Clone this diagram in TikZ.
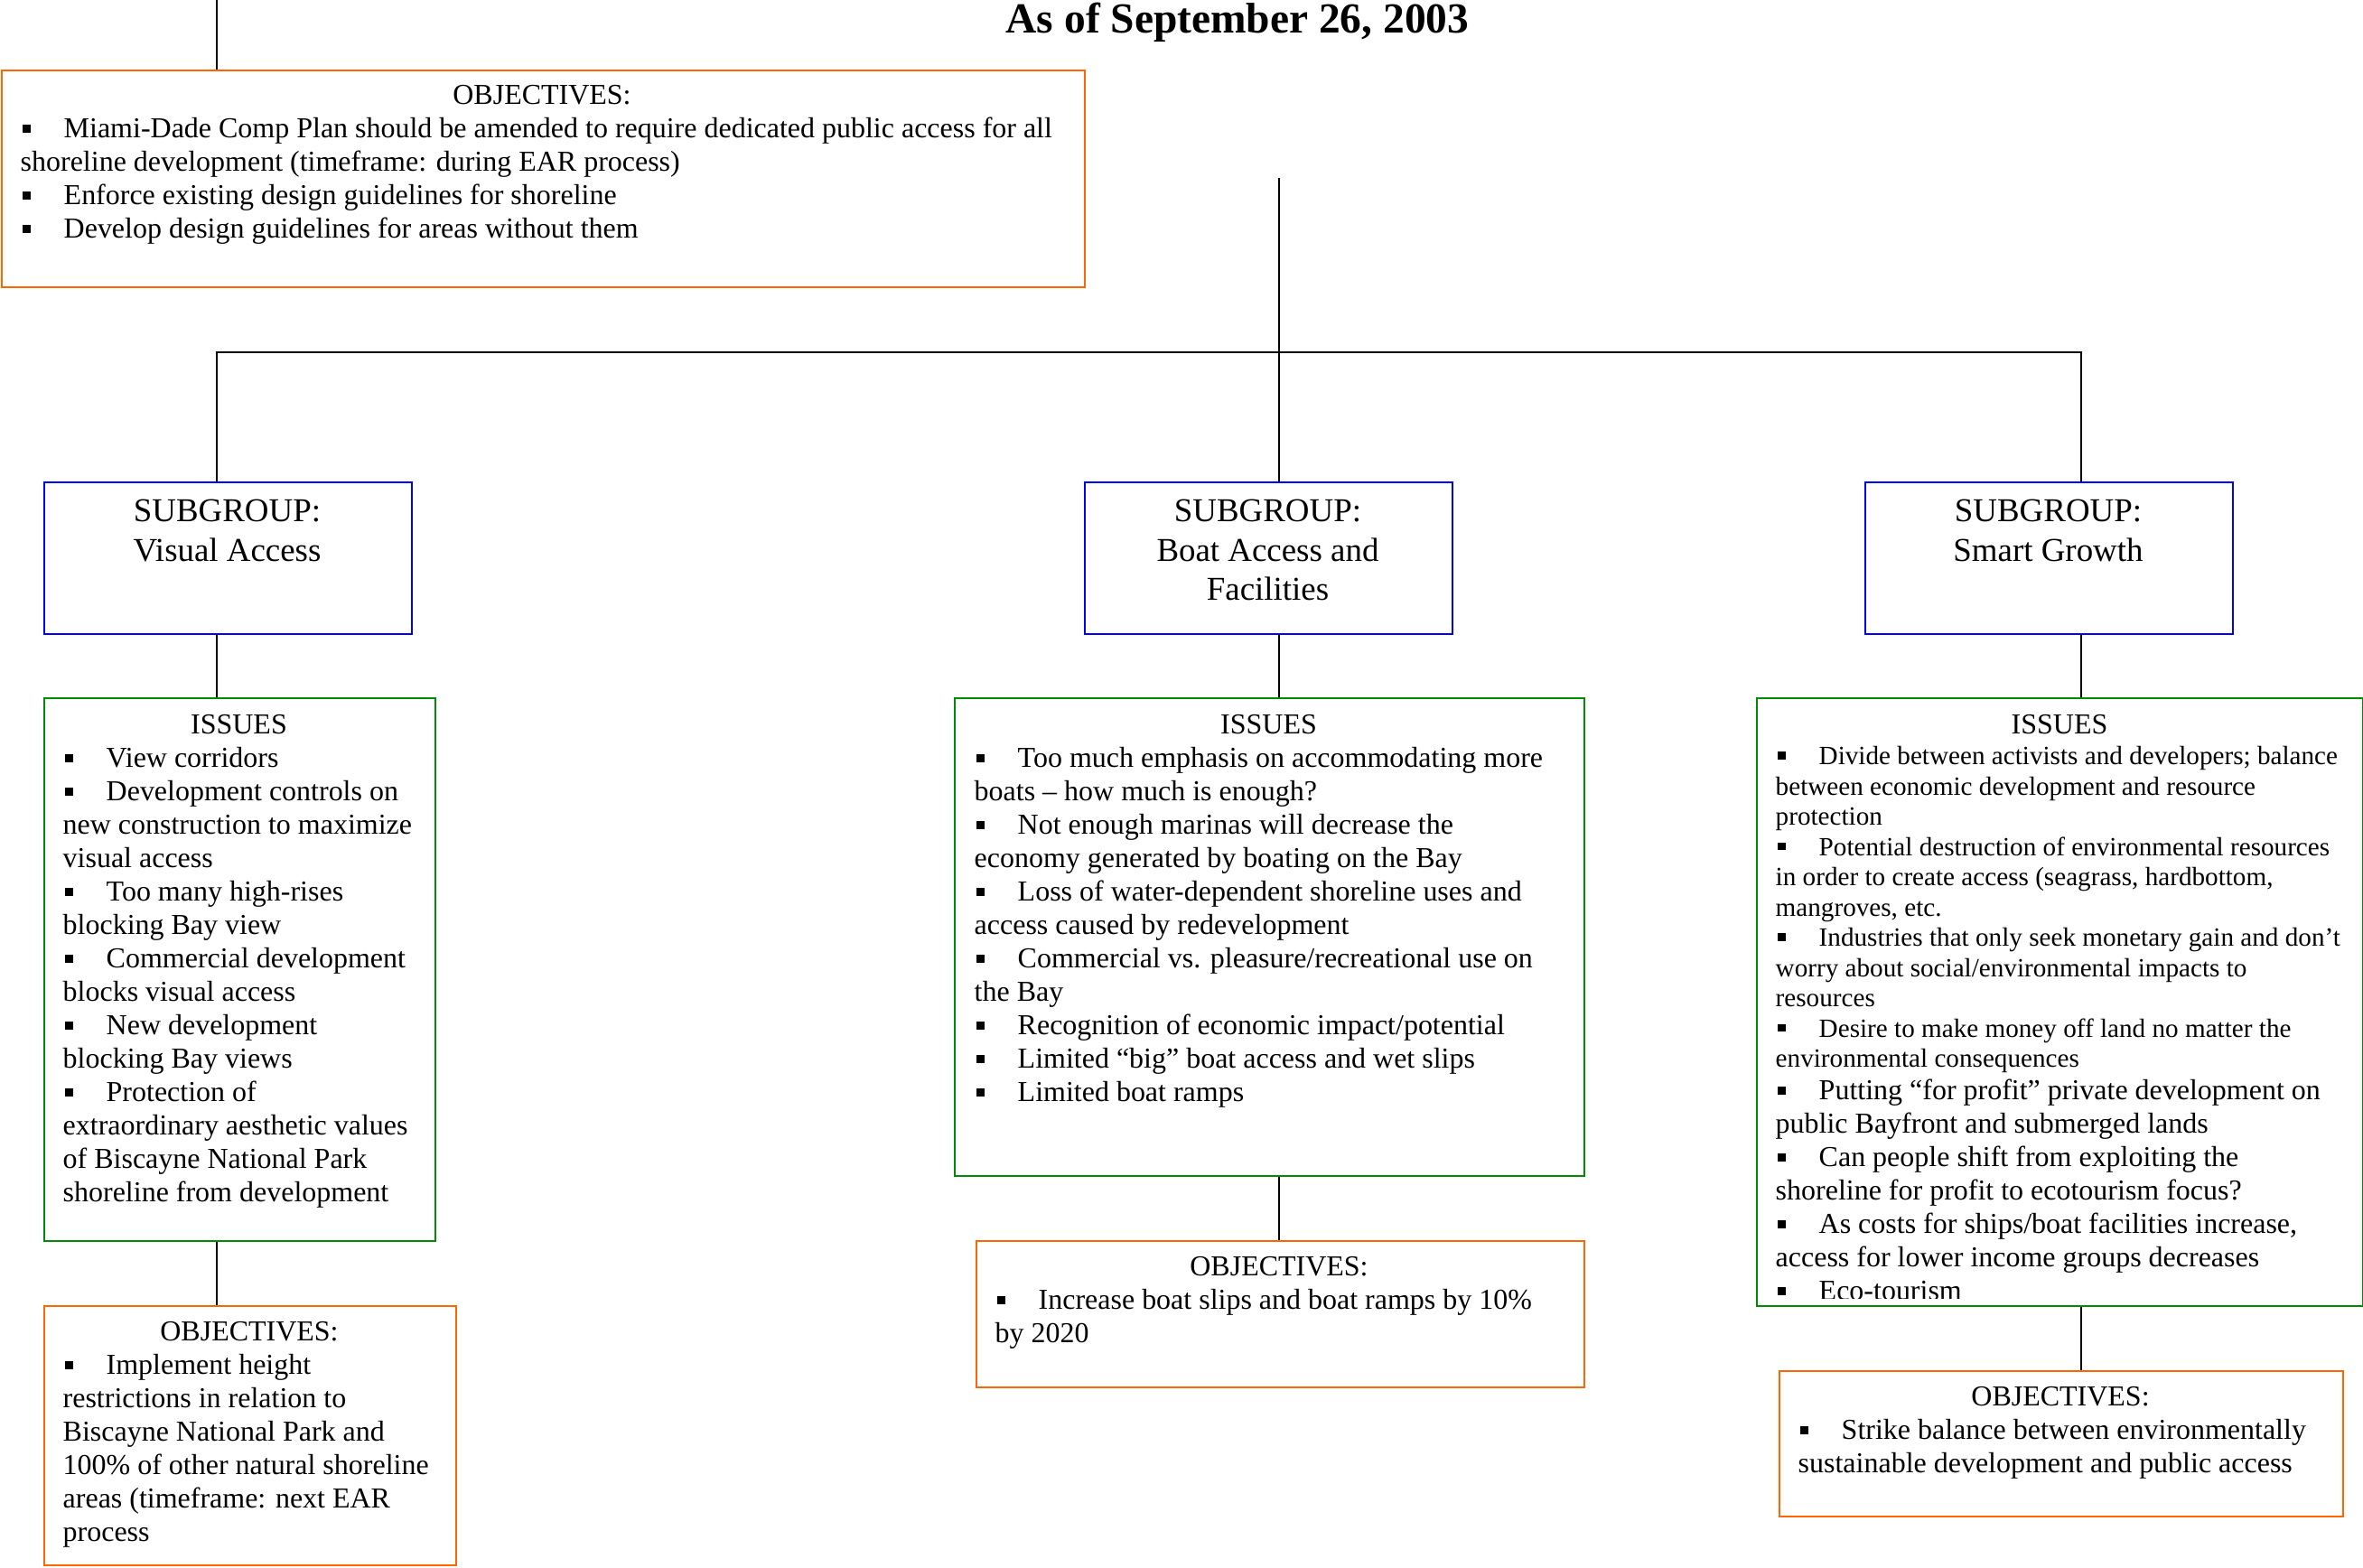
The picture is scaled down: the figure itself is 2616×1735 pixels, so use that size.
\documentclass[tikz,border=0pt]{standalone}
\usepackage{fontspec}
\setmainfont{Liberation Serif}
\usetikzlibrary{calc}

\definecolor{objorange}{RGB}{255,102,0}
\definecolor{issgreen}{RGB}{0,140,0}
\definecolor{subblue}{RGB}{0,0,255}

% square bullet followed by a tab stop
\newcommand\bitem{\makebox[13.66pt][l]{\hspace{0.6pt}\rule[1.7pt]{2.5pt}{2.4pt}}}
\newcommand\bodyfont{\fontsize{9.1pt}{10.53pt}\selectfont\lineskiplimit=-20pt}
\newcommand\smallbody{\fontsize{8.3pt}{9.53pt}\selectfont\lineskiplimit=-20pt}
\newcommand\subfont{\fontsize{10.5pt}{12.32pt}\selectfont\lineskiplimit=-20pt}
\newcommand\firstline{\rule{0pt}{8pt}}

\begin{document}
\begin{tikzpicture}[x=0.1mm,y=-0.1mm,
  box/.style={draw, line width=0.7pt, inner sep=0pt, anchor=north west, fill=none},
  objbox/.style={box, draw=objorange},
  issbox/.style={box, draw=issgreen},
  subbox/.style={box, draw=subblue},
  link/.style={draw=black, line width=0.55pt},
  head/.style={font=\bodyfont, anchor=base, inner sep=0pt},
  body/.style={font=\bodyfont, anchor=north west, inner sep=0pt, align=left, yshift=8pt},
  smallbodytext/.style={font=\smallbody, anchor=north west, inner sep=0pt, align=left, yshift=8pt},
  subtext/.style={font=\subfont, anchor=north, inner sep=0pt, align=center, yshift=9pt},
]
\useasboundingbox (0,0) rectangle (2616,1735);

% heading
\node[font=\bfseries\fontsize{13.5pt}{16pt}\selectfont, anchor=base, inner sep=0pt] (title) at (1370,36) {As of September 26, 2003};

% boxes
\node[objbox, minimum width=119.9mm, minimum height=24mm] (topobj) at (1,77) {};
\node[subbox, minimum width=40.7mm, minimum height=16.8mm] (vsub) at (48,533) {};
\node[subbox, minimum width=40.7mm, minimum height=16.8mm] (bsub) at (1200,533) {};
\node[subbox, minimum width=40.7mm, minimum height=16.8mm] (ssub) at (2064,533) {};
\node[issbox, minimum width=43.3mm, minimum height=60.1mm] (viss) at (48,772) {};
\node[issbox, minimum width=69.7mm, minimum height=52.9mm] (biss) at (1056,772) {};
\node[issbox, minimum width=67.1mm, minimum height=67.3mm] (siss) at (1944,772) {};
\node[objbox, minimum width=45.6mm, minimum height=28.7mm] (vobj) at (48,1445) {};
\node[objbox, minimum width=67.3mm, minimum height=16.2mm] (bobj) at (1080,1373) {};
\node[objbox, minimum width=62.4mm, minimum height=16.1mm] (sobj) at (1969,1517) {};

% connectors
\coordinate (topin) at (240,0);
\coordinate (hub) at (1416,197);
\coordinate (bus) at (1416,390);
\coordinate (vx) at (240,0);
\coordinate (sx) at (2304,0);
\draw[link] (topin) -- (topin |- topobj.north);
\draw[link] (hub) -- (bus);
\draw[link] (vsub.north -| vx) |- (bus) -| (ssub.north -| sx);
\draw[link] (bus) -- (bsub.north -| bus);
\draw[link] (vsub.south -| vx) -- (viss.north -| vx);
\draw[link] (viss.south -| vx) -- (vobj.north -| vx);
\draw[link] (bsub.south -| bus) -- (biss.north -| bus);
\draw[link] (biss.south -| bus) -- (bobj.north -| bus);
\draw[link] (ssub.south -| sx) -- (siss.north -| sx);
\draw[link] (siss.south -| sx) -- (sobj.north -| sx);

% subgroup titles
\node[subtext] (vsubt) at (251.5,577) {\rule{0pt}{9pt}SUBGROUP:\\Visual Access};
\node[subtext] (bsubt) at (1403.5,577) {\rule{0pt}{9pt}SUBGROUP:\\Boat Access and\\Facilities};
\node[subtext] (ssubt) at (2267.5,577) {\rule{0pt}{9pt}SUBGROUP:\\Smart Growth};

% top objectives
\node[head] (topobjh) at (600,115) {OBJECTIVES:};
\node[body] (topobjt) at (22,152) {\firstline\bitem Miami-Dade Comp Plan should be amended to require dedicated public access for all\\
shoreline development (timeframe: during EAR process)\\
\bitem Enforce existing design guidelines for shoreline\\
\bitem Develop design guidelines for areas without them};

% visual access
\node[head] (vissh) at (264.5,812) {ISSUES};
\node[body] (visst) at (69,849) {\firstline\bitem View corridors\\
\bitem Development controls on\\
new construction to maximize\\
visual access\\
\bitem Too many high-rises\\
blocking Bay view\\
\bitem Commercial development\\
blocks visual access\\
\bitem New development\\
blocking Bay views\\
\bitem Protection of\\
extraordinary aesthetic values\\
of Biscayne National Park\\
shoreline from development};
\node[head] (vobjh) at (276,1484) {OBJECTIVES:};
\node[body] (vobjt) at (69,1521) {\firstline\bitem Implement height\\
restrictions in relation to\\
Biscayne National Park and\\
100\% of other natural shoreline\\
areas (timeframe: next EAR\\
process};

% boat access
\node[head] (bissh) at (1404.5,812) {ISSUES};
\node[body] (bisst) at (1078,849) {\firstline\bitem Too much emphasis on accommodating more\\
boats – how much is enough?\\
\bitem Not enough marinas will decrease the\\
economy generated by boating on the Bay\\
\bitem Loss of water-dependent shoreline uses and\\
access caused by redevelopment\\
\bitem Commercial vs. pleasure/recreational use on\\
the Bay\\
\bitem Recognition of economic impact/potential\\
\bitem Limited “big” boat access and wet slips\\
\bitem Limited boat ramps};
\node[head] (bobjh) at (1416,1412) {OBJECTIVES:};
\node[body] (bobjt) at (1101,1449) {\firstline\bitem Increase boat slips and boat ramps by 10\%\\
by 2020};

% smart growth
\node[head] (sissh) at (2280,812) {ISSUES};
\begin{scope}
\clip (1944,772) rectangle (2615,1437);
\node[smallbodytext] (sisst) at (1965,846) {\firstline\bitem Divide between activists and developers; balance\\
between economic development and resource\\
protection\\
\bitem Potential destruction of environmental resources\\
in order to create access (seagrass, hardbottom,\\
mangroves, etc.\\
\bitem Industries that only seek monetary gain and don’t\\
worry about social/environmental impacts to\\
resources\\
\bitem Desire to make money off land no matter the\\
environmental consequences};
\node[body] (sisst2) at (1965,1217) {\firstline\bitem Putting “for profit” private development on\\
public Bayfront and submerged lands\\
\bitem Can people shift from exploiting the\\
shoreline for profit to ecotourism focus?\\
\bitem As costs for ships/boat facilities increase,\\
access for lower income groups decreases\\
\bitem Eco-tourism};
\end{scope}
\node[head] (sobjh) at (2281,1556) {OBJECTIVES:};
\node[body] (sobjt) at (1990,1593) {\firstline\bitem Strike balance between environmentally\\
sustainable development and public access};
\end{tikzpicture}
\end{document}
